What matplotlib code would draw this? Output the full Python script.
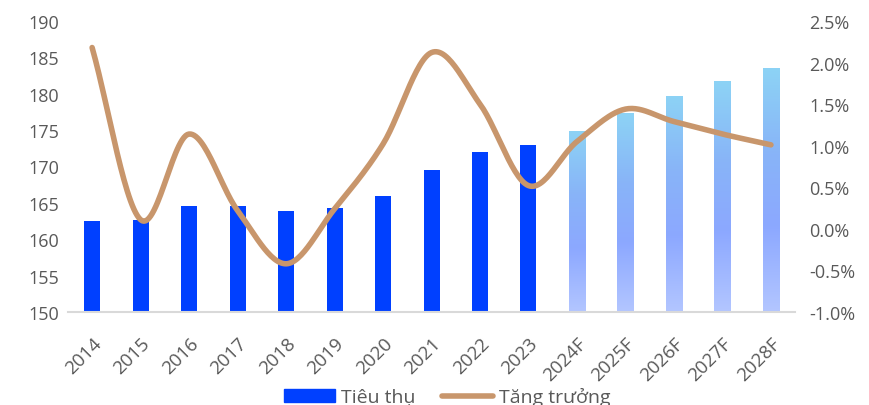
import matplotlib.pyplot as plt
import numpy as np
from matplotlib.colors import LinearSegmentedColormap
from matplotlib.lines import Line2D
from matplotlib.patches import Patch
from matplotlib.ticker import FuncFormatter

plt.rcParams['font.family'] = ['Open Sans', 'DejaVu Sans']

# Data
years = ['2014', '2015', '2016', '2017', '2018', '2019', '2020', '2021', '2022', '2023',
         '2024F', '2025F', '2026F', '2027F', '2028F']
consumption = [162.5, 162.7, 164.6, 164.6, 163.9, 164.3, 165.9, 169.5, 172.0, 172.9,
               174.9, 177.3, 179.7, 181.7, 183.5]
growth = [2.18, 0.11, 1.14, 0.22, -0.42, 0.24, 1.02, 2.12, 1.50, 0.52,
          1.05, 1.44, 1.29, 1.14, 1.01]
n_actual = 10

bar_color = '#0040FF'
line_color = '#C8966C'
text_color = '#595959'


def smooth(x, y, steps=30):
    # Catmull-Rom style smoothing like a spreadsheet "smoothed line"
    x = np.asarray(x, float)
    y = np.asarray(y, float)
    px = np.concatenate([[2 * x[0] - x[1]], x, [2 * x[-1] - x[-2]]])
    py = np.concatenate([[2 * y[0] - y[1]], y, [2 * y[-1] - y[-2]]])
    xs, ys = [], []
    t = np.linspace(0, 1, steps)
    for i in range(1, len(px) - 2):
        for p, out in ((px, xs), (py, ys)):
            p0, p1, p2, p3 = p[i - 1], p[i], p[i + 1], p[i + 2]
            m1 = (p2 - p0) / 2
            m2 = (p3 - p1) / 2
            h00 = 2 * t**3 - 3 * t**2 + 1
            h10 = t**3 - 2 * t**2 + t
            h01 = -2 * t**3 + 3 * t**2
            h11 = t**3 - t**2
            out.extend(h00 * p1 + h10 * m1 + h01 * p2 + h11 * m2)
    return np.array(xs), np.array(ys)


fig = plt.figure(figsize=(8.7, 4.06), dpi=100)
ax = fig.add_axes([0.078, 0.229, 0.836, 0.717])
x = np.arange(len(years))

bars = ax.bar(x, consumption, width=0.33, color=bar_color, zorder=2)

# gradient fill for forecast bars
cmap = LinearSegmentedColormap.from_list(
    'fc', [(0.0, '#B3C6FF'), (0.35, '#8CA8FF'), (0.65, '#88B4F8'), (1.0, '#8DD3F5')])
grad = np.linspace(0, 1, 256).reshape(-1, 1)
for b in bars[n_actual:]:
    b.set_facecolor('none')
    x0, w, h = b.get_x(), b.get_width(), b.get_height()
    im = ax.imshow(grad, cmap=cmap, origin='lower', aspect='auto',
                   extent=[x0, x0 + w, 150, h], zorder=2)
    im.set_clip_path(b)

ax.set_xlim(-0.5, len(years) - 0.5)
ax.set_ylim(150, 190)
ax.set_yticks(np.arange(150, 191, 5))
ax.set_xticks(x)
ax.set_xticklabels(years, rotation=45, ha='right', rotation_mode='anchor')
for s in ['top', 'right', 'left']:
    ax.spines[s].set_visible(False)
ax.spines['bottom'].set_color('#D9D9D9')
ax.spines['bottom'].set_linewidth(1.5)
ax.tick_params(axis='y', length=0, labelsize=13, colors=text_color, pad=6)
ax.tick_params(axis='x', length=0, labelsize=13.5, colors=text_color, pad=16)

ax2 = ax.twinx()
sx, sy = smooth(x, growth)
ax2.plot(sx, sy, color=line_color, lw=4, solid_capstyle='round', zorder=3)
ax2.set_ylim(-1.0, 2.5)
ax2.set_yticks(np.arange(-1.0, 2.51, 0.5))
ax2.yaxis.set_major_formatter(FuncFormatter(lambda v, p: f'{v:.1f}%'))
for s in ax2.spines.values():
    s.set_visible(False)
ax2.tick_params(axis='y', length=0, labelsize=13, colors=text_color, pad=10)

handles = [Patch(color=bar_color), Line2D([0], [0], color=line_color, lw=4, solid_capstyle='round')]
fig.legend(handles, ['Tiêu thụ', 'Tăng trưởng'], loc='center', ncol=2,
           bbox_to_anchor=(0.514, 0.02), frameon=False, fontsize=14,
           labelcolor=text_color, handlelength=2.6, columnspacing=1.4, handletextpad=0.3)

fig.savefig('out.png', dpi=100)
